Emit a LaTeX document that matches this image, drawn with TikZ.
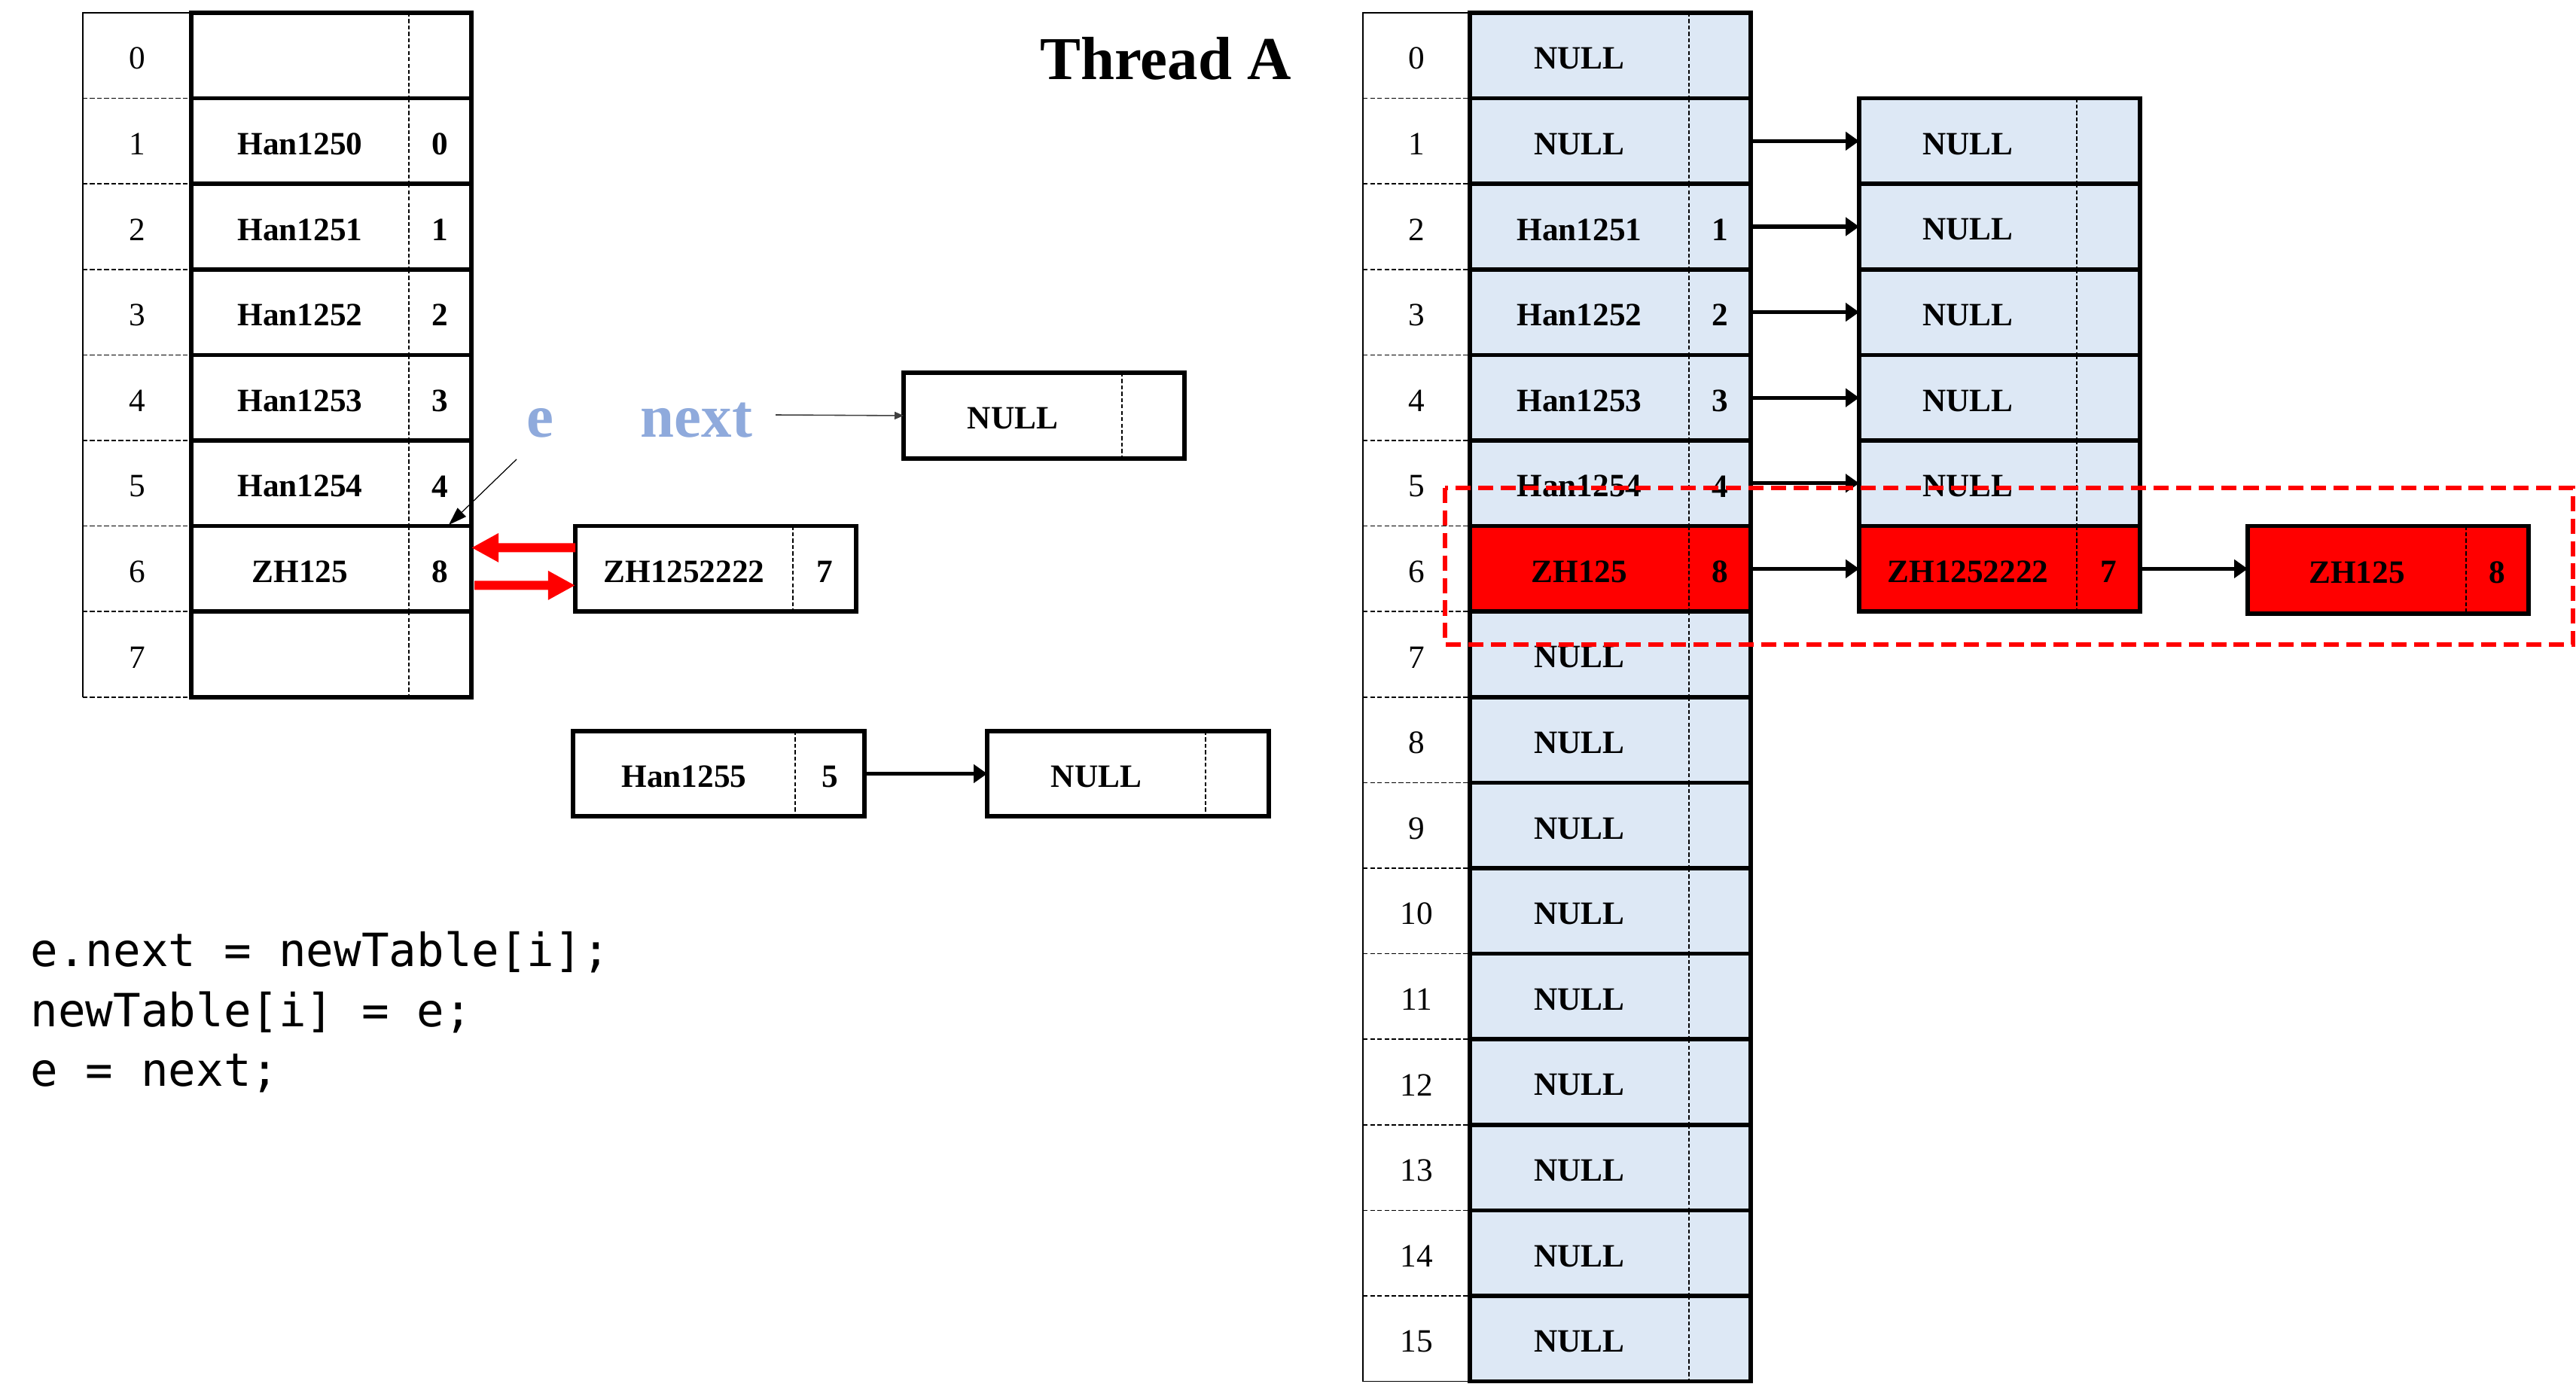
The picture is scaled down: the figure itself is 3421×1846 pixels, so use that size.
\documentclass[tikz,border=0pt]{standalone}
\usepackage{fontspec}
\setmainfont{Liberation Serif}
\newfontfamily\codefont{DejaVu Sans Mono}
\usetikzlibrary{arrows.meta,calc}
\definecolor{lblue}{RGB}{221,232,245}
\definecolor{vred}{RGB}{255,0,0}
\definecolor{elabcol}{RGB}{143,170,220}
\tikzset{
  cellbox/.style={draw=black, line width=1.6pt, inner sep=0pt, outer sep=0pt, anchor=north west},
  divline/.style={black, line width=0.45pt, dash pattern=on 1.5pt off 0.9pt},
  celltext/.style={font=\fontsize{12.3}{14}\selectfont\bfseries, inner sep=0pt},
  idxtext/.style={font=\fontsize{12.3}{14}\selectfont, inner sep=0pt},
  idxline/.style={line width=0.4pt, black},
  idxsep/.style={line width=0.45pt, black, dash pattern=on 1.8pt off 0.9pt},
  linkarrow/.style={line width=1.45pt, -{Triangle[length=0.18cm,width=0.24cm]}},
  redarrow/.style={vred, line width=3.4pt, -{Triangle[length=0.36cm,width=0.36cm]}},
  thinarrow/.style={line width=0.45pt, black!75, -{Triangle[length=0.12cm,width=0.1cm]}},
  earrow/.style={line width=0.35pt, black, -{Triangle[length=0.24cm,width=0.16cm]}},
  biglabel/.style={font=\fontsize{23}{27}\selectfont\bfseries, inner sep=0pt},
  codetext/.style={font=\codefont\fontsize{17.3}{20}\selectfont, inner sep=0pt, anchor=base west},
  redbox/.style={draw=vred, line width=1.45pt, dash pattern=on 5.7pt off 2.8pt}
}
% #1 name, #2 xl, #3 yt, #4 xr, #5 yb, #6 xdiv, #7 label, #8 num, #9 fill
\newcommand\mkcell[9]{%
  \node[cellbox, fill=#9, minimum width={(#4-#2)*0.01cm}, minimum height={(#5-#3)*0.01cm}] (#1) at (#2,#3) {};
  \draw[divline] (#6,#3) -- (#6,#5);
  \node[celltext] (#1-l) at ({(#2+#6)/2},{(#3+#5)/2+4}) {#7};
  \node[celltext] (#1-n) at ({(#6+#4)/2},{(#3+#5)/2+4}) {#8};
}
\newcommand\leftrow[4]{%
  \pgfmathsetmacro\yt{17+113.6*#1}\pgfmathsetmacro\yb{17+113.6*(#1+1)}%
  \node[idxtext] (LI#1) at (182,{(\yt+\yb)/2+4}) {#1};
  \mkcell{L#1}{254}{\yt}{626}{\yb}{543}{#2}{#3}{#4}
}
\newcommand\rightrow[4]{%
  \pgfmathsetmacro\yt{17+113.6*#1}\pgfmathsetmacro\yb{17+113.6*(#1+1)}%
  \node[idxtext] (RI#1) at (1881,{(\yt+\yb)/2+4}) {#1};
  \mkcell{R#1}{1952}{\yt}{2325}{\yb}{2243}{#2}{#3}{#4}
}
\newcommand\secrow[4]{%
  \pgfmathsetmacro\yt{17+113.6*#1}\pgfmathsetmacro\yb{17+113.6*(#1+1)}%
  \mkcell{S#1}{2469}{\yt}{2842}{\yb}{2758}{#2}{#3}{#4}
}
\begin{document}
\begin{tikzpicture}[x=0.01cm,y=-0.01cm]
\useasboundingbox (0,0) rectangle (3421,1846);
\fill[white] (0,0) rectangle (3421,1846);

% ---------- left table index column
\draw[idxline] (254,17) -- (110,17) -- (110,925.8);
\foreach \k in {1,...,8} {
  \pgfmathsetmacro\yy{17+113.6*\k}
  \draw[idxsep] (110,\yy) -- (254,\yy);
}
\leftrow{0}{}{}{white}
\leftrow{1}{Han1250}{0}{white}
\leftrow{2}{Han1251}{1}{white}
\leftrow{3}{Han1252}{2}{white}
\leftrow{4}{Han1253}{3}{white}
\leftrow{5}{Han1254}{4}{white}
\leftrow{6}{ZH125}{8}{white}
\leftrow{7}{}{}{white}

% ---------- labels e / next
\node[biglabel, text=elabcol, anchor=base] (elab) at (717,581) {e};
\node[biglabel, text=elabcol, anchor=base west] (nextlab) at (850,581) {next};
\node[biglabel, anchor=base] (title) at (1548,106) {Thread A};

% ---------- loose boxes
\mkcell{N1}{1200}{495}{1573}{609}{1490}{NULL}{}{white}
\mkcell{Z}{764}{698.6}{1137}{812.2}{1053}{ZH1252222}{7}{white}
\mkcell{H5}{761}{971}{1148}{1084}{1056}{Han1255}{5}{white}
\mkcell{N2}{1311}{971}{1685}{1084}{1601}{NULL}{}{white}

\coordinate (nextstart) at (1030,551);
\draw[thinarrow] (nextstart) -- (N1.west);
\coordinate (estart) at (686,610);
\coordinate (etip) at (596,697);
\draw[earrow] (estart) -- (etip);
\draw[redarrow] ($(Z.west)+(0,-28)$) -- ($(L6.east)+(0,-28)$);
\draw[redarrow] ($(L6.east)+(4,22)$) -- ($(Z.west)+(0,22)$);
\draw[linkarrow] (H5.east) -- (N2.west);

% ---------- code
\node[codetext] (code1) at (40,1283) {e.next = newTable[i];};
\node[codetext] (code2) at (40,1363) {newTable[i] = e;};
\node[codetext] (code3) at (40,1442) {e = next;};

% ---------- right table index column
\draw[idxline] (1952,17) -- (1810,17) -- (1810,1834.6) -- (1952,1834.6);
\foreach \k in {1,...,15} {
  \pgfmathsetmacro\yy{17+113.6*\k}
  \draw[idxsep] (1810,\yy) -- (1952,\yy);
}
\rightrow{0}{NULL}{}{lblue}
\rightrow{1}{NULL}{}{lblue}
\rightrow{2}{Han1251}{1}{lblue}
\rightrow{3}{Han1252}{2}{lblue}
\rightrow{4}{Han1253}{3}{lblue}
\rightrow{5}{Han1254}{4}{lblue}
\rightrow{6}{ZH125}{8}{vred}
\rightrow{7}{NULL}{}{lblue}
\rightrow{8}{NULL}{}{lblue}
\rightrow{9}{NULL}{}{lblue}
\rightrow{10}{NULL}{}{lblue}
\rightrow{11}{NULL}{}{lblue}
\rightrow{12}{NULL}{}{lblue}
\rightrow{13}{NULL}{}{lblue}
\rightrow{14}{NULL}{}{lblue}
\rightrow{15}{NULL}{}{lblue}

% ---------- second column
\secrow{1}{NULL}{}{lblue}
\secrow{2}{NULL}{}{lblue}
\secrow{3}{NULL}{}{lblue}
\secrow{4}{NULL}{}{lblue}
\secrow{5}{NULL}{}{lblue}
\secrow{6}{ZH1252222}{7}{vred}
\mkcell{T6}{2985}{698.6}{3358}{815}{3275}{ZH125}{8}{vred}

\foreach \k in {1,...,6} {
  \draw[linkarrow] (R\k.east) -- (S\k.west);
}
\draw[linkarrow] (S6.east) -- (S6.east -| T6.west);

% ---------- red dashed frame
\draw[redbox] (1919,648) rectangle (3417,856);
\end{tikzpicture}
\end{document}
